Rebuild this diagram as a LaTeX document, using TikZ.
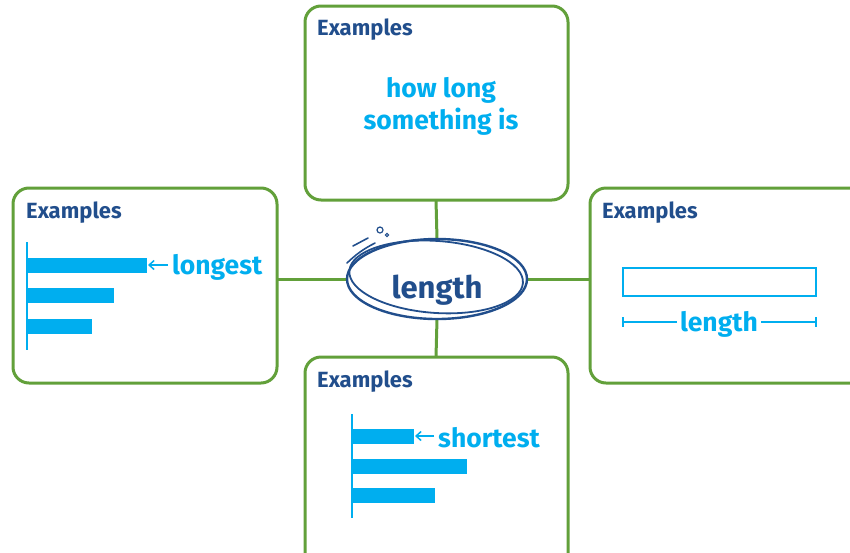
\documentclass[tikz,border=0pt]{standalone}
\usepackage{fontspec}
\setmainfont{Fira Sans}
\usetikzlibrary{arrows.meta,shapes.geometric}
\definecolor{grn}{RGB}{98,160,58}
\definecolor{dblue}{RGB}{33,78,140}
\definecolor{lblue}{RGB}{0,174,239}
\tikzset{
  card/.style={draw=grn, line width=3pt, rounded corners=16pt, fill=white},
  link/.style={draw=grn, line width=3pt},
  ex/.style={text=dblue, font=\bfseries\fontsize{22}{25}\selectfont, anchor=west, inner sep=0pt},
  word/.style={text=lblue, font=\bfseries\fontsize{26.5}{30}\selectfont, inner sep=0pt},
  bar/.style={fill=lblue, draw=none},
  axisline/.style={draw=lblue, line width=1.5pt},
  pointer/.style={draw=lblue, line width=1.5pt, -{Straight Barb[length=5pt,width=9pt]}},
}
\begin{document}
\begin{tikzpicture}[x=1pt,y=-1pt]
\useasboundingbox (0,0) rectangle (850,552);
\clip (0,0) rectangle (850,552);
% cards
\draw[card] (305,6) rectangle (568,200);
\draw[card] (13,188) rectangle (277,383);
\draw[card] (590,188) rectangle (866,383);
\draw[card] (305,357) rectangle (568,570);
\coordinate (topb) at (436,200);
\coordinate (leftb) at (277,279);
\coordinate (rightb) at (590,279);
\coordinate (botb) at (436,357);
% center
\node[draw=none, ellipse, minimum width=180pt, minimum height=80pt, inner sep=0pt] (c) at (437,279) {};
\draw[link] (topb) -- (c.north);
\draw[link] (leftb) -- (c.west);
\draw[link] (rightb) -- (c.east);
\draw[link] (botb) -- (c.south);
\fill[white] (437,279) ellipse [x radius=90, y radius=40];
\draw[dblue, line width=2.4pt] (437,279) ellipse [x radius=90, y radius=40];
\draw[dblue, line width=1.8pt, rotate around={-4:(437,279)}] (436,277) ellipse [x radius=87, y radius=36];
\draw[dblue, line width=1.6pt, line cap=round] (353,246) -- (368,238);
\draw[dblue, line width=1.6pt, line cap=round] (347,263) to[bend left=8] (375,243);
\draw[dblue, line width=1.2pt] (380,230) circle (3);
\draw[dblue, line width=1pt] (387,235) circle (1.6);
\node[text=dblue, font=\bfseries\fontsize{31}{35}\selectfont, inner sep=0pt] (clabel) at (437,290) {length};
% top card
\node[ex] (ex1) at (317,30) {Examples};
\node[word] (w1) at (441,90) {how long};
\node[word] (w2) at (441,122) {something is};
% left card
\node[ex] (ex2) at (26,213) {Examples};
\draw[axisline] (27,242) -- (27,350);
\fill[bar] (27,258) rectangle (147,273);
\fill[bar] (27,288) rectangle (114,303);
\fill[bar] (27,319) rectangle (92,334);
\node[word, anchor=west] (longest) at (172,267) {longest};
\coordinate (b1) at (148,265);
\draw[pointer] (longest.west |- b1) ++(-4,0) -- (b1);
% right card
\node[ex] (ex3) at (602,213) {Examples};
\draw[draw=lblue, line width=2pt] (623,268) rectangle (816,296);
\node[word, fill=white, inner xsep=3pt] (len) at (719,324) {length};
\coordinate (dl) at (623,322);
\coordinate (dr) at (816,322);
\draw[axisline] (dl) -- (len.west |- dl);
\draw[axisline] (len.east |- dr) -- (dr);
\draw[axisline] (623,317) -- (623,327);
\draw[axisline] (816,317) -- (816,327);
% bottom card
\node[ex] (ex4) at (317,382) {Examples};
\draw[axisline] (352,414) -- (352,518);
\fill[bar] (352,429) rectangle (414,444);
\fill[bar] (352,459) rectangle (467,474);
\fill[bar] (352,488) rectangle (435,503);
\node[word, anchor=west] (shortest) at (438,438) {shortest};
\coordinate (b2) at (415,436);
\draw[pointer] (shortest.west |- b2) ++(-4,0) -- (b2);
\end{tikzpicture}
\end{document}
